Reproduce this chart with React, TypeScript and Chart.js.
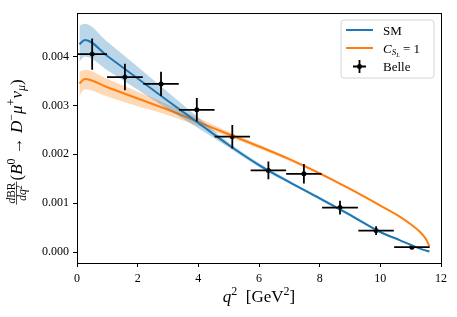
import React, { useEffect, useRef } from "react";
import { Chart, registerables } from "chart.js";

Chart.register(...registerables);

// ---------------- data ----------------
const Q2_SM = [0.08, 0.26, 1, 2, 3, 4, 5, 6, 7, 8, 9, 10, 10.65, 11.14, 11.4, 11.62];
const SM_CENTRAL = [0.00425, 0.00434, 0.00401, 0.00355, 0.00309, 0.00264, 0.00219, 0.00178, 0.00143, 0.0011, 0.00076, 0.00041, 0.00024, 0.00011, 0.00005, 0.00001];
const SM_UPPER = [0.00463, 0.00467, 0.0043, 0.00379, 0.00327, 0.00275, 0.00224, 0.00182, 0.00146, 0.00113, 0.00079, 0.00043, 0.00025, 0.00012, 0.00005, 0.00001];
const SM_LOWER = [0.0039, 0.004, 0.00372, 0.00332, 0.00292, 0.00253, 0.00214, 0.00174, 0.0014, 0.00107, 0.00073, 0.00039, 0.00023, 0.0001, 0.00004, 0.00001];

const Q2_CSL = [0.08, 0.26, 1, 2, 3, 4, 5, 6, 7, 8, 9, 10, 10.65, 11, 11.31, 11.5, 11.62];
const CSL_CENTRAL = [0.00345, 0.00354, 0.00337, 0.00314, 0.00291, 0.00266, 0.00241, 0.00216, 0.0019, 0.00161, 0.00129, 0.00095, 0.00072, 0.00057, 0.00041, 0.00027, 0.00012];
const CSL_UPPER = [0.00369, 0.00373, 0.00354, 0.00328, 0.00302, 0.00274, 0.00246, 0.0022, 0.00193, 0.00164, 0.00131, 0.00097, 0.00073, 0.00058, 0.00042, 0.00028, 0.00012];
const CSL_LOWER = [0.00321, 0.00333, 0.00318, 0.00298, 0.0028, 0.00258, 0.00236, 0.00212, 0.00187, 0.00158, 0.00127, 0.00093, 0.00071, 0.00056, 0.0004, 0.00026, 0.00012];

const BELLE_Q2 = [0.5, 1.58, 2.77, 3.95, 5.12, 6.31, 7.48, 8.67, 9.86, 11.04];
const BELLE_Q2_ERR = [0.49, 0.59, 0.585, 0.585, 0.585, 0.585, 0.585, 0.59, 0.585, 0.585];
const BELLE_BR = [0.00405, 0.00358, 0.00344, 0.00291, 0.00236, 0.00167, 0.0016, 0.00091, 0.00044, 0.0001];
const BELLE_BR_ERR = [0.00032, 0.00027, 0.00025, 0.00024, 0.00024, 0.00018, 0.0002, 0.00014, 0.00009, 0.00002];

const X_TICKS = [0, 2, 4, 6, 8, 10, 12];
const Y_TICKS = [0, 0.001, 0.002, 0.003, 0.004];
const X_MIN = 0;
const X_MAX = 12;
const Y_MIN = -0.000224;
const Y_MAX = 0.00489;

const BLUE = "#1f77b4";
const ORANGE = "#ff7f0e";
const FONT = "'Liberation Serif', 'DejaVu Serif', serif";

type Piece = { t: string; size: number; italic?: boolean; dy?: number };

function pieceFont(p: Piece) {
  return `${p.italic ? "italic " : ""}${p.size}px ${FONT}`;
}
function measurePieces(ctx: CanvasRenderingContext2D, pieces: Piece[]) {
  let w = 0;
  for (const p of pieces) {
    ctx.font = pieceFont(p);
    w += ctx.measureText(p.t).width;
  }
  return w;
}
function drawPieces(ctx: CanvasRenderingContext2D, pieces: Piece[], x: number, y: number) {
  let cx = x;
  for (const p of pieces) {
    ctx.font = pieceFont(p);
    ctx.fillText(p.t, cx, y + (p.dy || 0));
    cx += ctx.measureText(p.t).width;
  }
  return cx - x;
}

const toPts = (xs: number[], ys: number[]) => xs.map((x, i) => ({ x, y: ys[i] }));

const decorPlugin = {
  id: "decor",
  afterDatasetsDraw(chart: any) {
    const ctx: CanvasRenderingContext2D = chart.ctx;
    const xs = chart.scales.x;
    const ys = chart.scales.y;
    ctx.save();
    ctx.strokeStyle = "#000";
    ctx.lineWidth = 1.8;
    for (let i = 0; i < BELLE_Q2.length; i++) {
      const px = xs.getPixelForValue(BELLE_Q2[i]);
      const py = ys.getPixelForValue(BELLE_BR[i]);
      const x0 = xs.getPixelForValue(BELLE_Q2[i] - BELLE_Q2_ERR[i]);
      const x1 = xs.getPixelForValue(BELLE_Q2[i] + BELLE_Q2_ERR[i]);
      const y0 = ys.getPixelForValue(BELLE_BR[i] - BELLE_BR_ERR[i]);
      const y1 = ys.getPixelForValue(BELLE_BR[i] + BELLE_BR_ERR[i]);
      ctx.beginPath();
      ctx.moveTo(x0, py);
      ctx.lineTo(x1, py);
      ctx.moveTo(px, y0);
      ctx.lineTo(px, y1);
      ctx.stroke();
    }
    ctx.restore();
  },
  afterDraw(chart: any) {
    const ctx: CanvasRenderingContext2D = chart.ctx;
    const a = chart.chartArea;
    ctx.save();
    ctx.strokeStyle = "#000";
    ctx.lineWidth = 1;
    ctx.strokeRect(Math.round(a.left) + 0.5, Math.round(a.top) + 0.5, Math.round(a.right - a.left), Math.round(a.bottom - a.top));

    ctx.fillStyle = "#000";
    ctx.textBaseline = "alphabetic";
    ctx.textAlign = "left";

    // x label
    const xl: Piece[] = [
      { t: "q", size: 17, italic: true },
      { t: "2", size: 12, dy: -7 },
      { t: "  [GeV", size: 17 },
      { t: "2", size: 12, dy: -7 },
      { t: "]", size: 17 },
    ];
    const xw = measurePieces(ctx, xl);
    drawPieces(ctx, xl, (a.left + a.right) / 2 - xw / 2, 302);

    // y label (rotated)
    const main: Piece[] = [
      { t: "(", size: 17 },
      { t: "B", size: 17, italic: true },
      { t: "0", size: 12, dy: -7 },
      { t: " \u2192 ", size: 17 },
      { t: "D", size: 17, italic: true },
      { t: "\u2212", size: 12, dy: -7 },
      { t: "\u03bc", size: 17, italic: true },
      { t: "+", size: 12, dy: -7 },
      { t: "\u03bd", size: 17, italic: true },
      { t: "\u03bc", size: 12, italic: true, dy: 3.5 },
      { t: ")", size: 17 },
    ];
    const num: Piece[] = [
      { t: "d", size: 11.5, italic: true },
      { t: "BR", size: 11.5 },
    ];
    const den: Piece[] = [
      { t: "dq", size: 11.5, italic: true },
      { t: "2", size: 8, dy: -4.5 },
    ];
    const nw = measurePieces(ctx, num);
    const dw = measurePieces(ctx, den);
    const fw = Math.max(nw, dw) + 2;
    const mw = measurePieces(ctx, main);
    const total = fw + 1 + mw;
    const cy = (a.top + a.bottom) / 2 + 4;
    ctx.translate(21.5, cy);
    ctx.rotate(-Math.PI / 2);
    const sx = -total / 2;
    drawPieces(ctx, num, sx + (fw - nw) / 2, -7);
    drawPieces(ctx, den, sx + (fw - dw) / 2, 4.5);
    ctx.lineWidth = 0.7;
    ctx.beginPath();
    ctx.moveTo(sx, -5);
    ctx.lineTo(sx + fw, -5);
    ctx.stroke();
    drawPieces(ctx, main, sx + fw + 1, 0);
    ctx.restore();

    // legend
    ctx.save();
    const lx = 341, ly = 20, lw = 93, lh = 58, r = 3;
    ctx.beginPath();
    ctx.moveTo(lx + r, ly);
    ctx.arcTo(lx + lw, ly, lx + lw, ly + lh, r);
    ctx.arcTo(lx + lw, ly + lh, lx, ly + lh, r);
    ctx.arcTo(lx, ly + lh, lx, ly, r);
    ctx.arcTo(lx, ly, lx + lw, ly, r);
    ctx.closePath();
    ctx.fillStyle = "rgba(255,255,255,0.8)";
    ctx.fill();
    ctx.strokeStyle = "#d6d6d6";
    ctx.lineWidth = 1;
    ctx.stroke();

    ctx.lineWidth = 2;
    ctx.strokeStyle = BLUE;
    ctx.beginPath();
    ctx.moveTo(346, 30);
    ctx.lineTo(373, 30);
    ctx.stroke();
    ctx.strokeStyle = ORANGE;
    ctx.beginPath();
    ctx.moveTo(346, 48);
    ctx.lineTo(373, 48);
    ctx.stroke();
    ctx.strokeStyle = "#000";
    ctx.lineWidth = 1.8;
    ctx.beginPath();
    ctx.moveTo(353, 66.5);
    ctx.lineTo(366, 66.5);
    ctx.moveTo(359.5, 60);
    ctx.lineTo(359.5, 73);
    ctx.stroke();
    ctx.fillStyle = "#000";
    ctx.beginPath();
    ctx.arc(359.5, 66.5, 2.5, 0, Math.PI * 2);
    ctx.fill();

    drawPieces(ctx, [{ t: "SM", size: 13 }], 383, 34.5);
    drawPieces(
      ctx,
      [
        { t: "C", size: 13, italic: true },
        { t: "S", size: 9, italic: true, dy: 2.5 },
        { t: "L", size: 6.5, italic: true, dy: 4.5 },
        { t: " = 1", size: 13 },
      ],
      383,
      52.5
    );
    drawPieces(ctx, [{ t: "Belle", size: 13 }], 383, 71);
    ctx.restore();
  },
};

export default function App() {
  const ref = useRef<HTMLCanvasElement | null>(null);

  useEffect(() => {
    if (!ref.current) return;
    const lineCommon = {
      pointRadius: 0,
      pointHoverRadius: 0,
      cubicInterpolationMode: "monotone" as const,
    };
    const chart = new Chart(ref.current, {
      type: "line",
      data: {
        datasets: [
          {
            data: toPts(Q2_SM, SM_UPPER),
            borderWidth: 0,
            borderColor: "rgba(0,0,0,0)",
            backgroundColor: "rgba(31,119,180,0.3)",
            fill: "+1",
            ...lineCommon,
          },
          {
            data: toPts(Q2_SM, SM_LOWER),
            borderWidth: 0,
            borderColor: "rgba(0,0,0,0)",
            fill: false,
            ...lineCommon,
          },
          {
            data: toPts(Q2_SM, SM_CENTRAL),
            borderWidth: 2,
            borderColor: BLUE,
            fill: false,
            ...lineCommon,
          },
          {
            data: toPts(Q2_CSL, CSL_UPPER),
            borderWidth: 0,
            borderColor: "rgba(0,0,0,0)",
            backgroundColor: "rgba(255,127,14,0.3)",
            fill: "+1",
            ...lineCommon,
          },
          {
            data: toPts(Q2_CSL, CSL_LOWER),
            borderWidth: 0,
            borderColor: "rgba(0,0,0,0)",
            fill: false,
            ...lineCommon,
          },
          {
            data: toPts(Q2_CSL, CSL_CENTRAL),
            borderWidth: 2,
            borderColor: ORANGE,
            fill: false,
            ...lineCommon,
          },
          {
            type: "scatter",
            data: toPts(BELLE_Q2, BELLE_BR),
            pointRadius: 2.5,
            pointBackgroundColor: "#000",
            pointBorderWidth: 0,
            showLine: false,
          } as any,
        ],
      },
      options: {
        animation: false,
        responsive: false,
        devicePixelRatio: 1,
        layout: { padding: { left: 0, right: 16, top: 13, bottom: 0 } },
        plugins: {
          legend: { display: false },
          tooltip: { enabled: false },
        },
        scales: {
          x: {
            type: "linear",
            min: X_MIN,
            max: X_MAX,
            afterFit: (s: any) => {
              s.height = 54;
            },
            afterBuildTicks: (s: any) => {
              s.ticks = X_TICKS.map((v) => ({ value: v }));
            },
            grid: { drawOnChartArea: false, drawTicks: true, tickLength: 4, color: "#000" },
            border: { display: false },
            ticks: {
              color: "#000",
              padding: 5,
              font: { family: FONT, size: 12 },
              maxRotation: 0,
              callback: (v: any) => String(v),
            },
          },
          y: {
            type: "linear",
            min: Y_MIN,
            max: Y_MAX,
            afterFit: (s: any) => {
              s.width = 77;
            },
            afterBuildTicks: (s: any) => {
              s.ticks = Y_TICKS.map((v) => ({ value: v }));
            },
            grid: { drawOnChartArea: false, drawTicks: true, tickLength: 4, color: "#000" },
            border: { display: false },
            ticks: {
              color: "#000",
              padding: 4,
              font: { family: FONT, size: 12 },
              callback: (v: any) => Number(v).toFixed(3),
            },
          },
        },
      },
      plugins: [decorPlugin],
    });
    return () => chart.destroy();
  }, []);

  return (
    <div style={{ position: "fixed", left: 0, top: 0, width: 457, height: 317, background: "#fff" }}>
      <canvas ref={ref} width={457} height={317} style={{ width: 457, height: 317, display: "block" }} />
    </div>
  );
}
